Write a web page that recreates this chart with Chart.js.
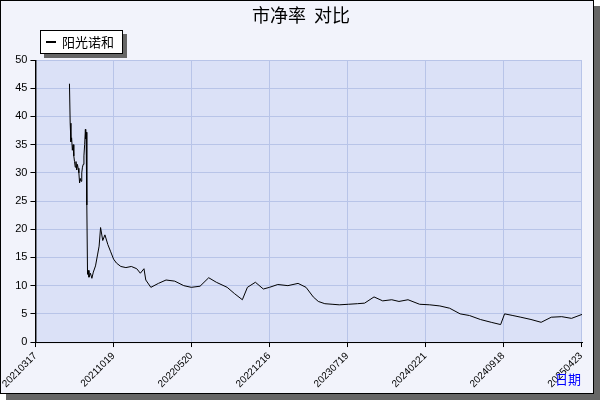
<!DOCTYPE html><html><head><meta charset="utf-8">
<script src="https://cdn.jsdelivr.net/npm/chart.js@4/dist/chart.umd.min.js"></script>
<style>body{margin:0;background:#fff}#w{position:absolute;left:0;top:0;width:592px;height:392px;background:#f2f3fb;border:1px solid #000;box-shadow:6px 6px 0 #666}canvas{position:absolute;left:0;top:0}</style>
</head><body><div id="w"><canvas id="c" width="592" height="392"></canvas></div>
<script>
const tickLabels=["20210317","20211019","20220520","20221216","20230719","20240221","20240918","20250423"];
const seriesName="阳光诺和";
const days=[94,96,98,100,102,104,106,108,110,112,
114,116,118,120,122,124,126,128,130,132,
134,136,138,139,140,142,144,146,148,152,
156,160,166,172,176,180,186,192,200,208,
216,224,236,250,265,280,290,300,305,319,
340,361,385,410,431,455,479,500,530,550,
572,586,608,630,647,670,698,726,748,768,
782,800,820,840,866,890,910,936,960,985,
1005,1030,1062,1090,1118,1145,1174,1200,1230,1260,
1286,1297,1320,1342,1370,1398,1426,1455,1482,1511];
const pb=[45.8,38.8,35.5,36.2,34,35,33,32,31,32,
30.5,31.5,30.8,30,28.2,29,28.5,30,31,31.5,
33,35,37.7,36,37.2,24.3,12,12.7,11.5,12.2,
11.3,12.4,13.5,15.6,17,20.3,18,19,17.3,16,
14.7,14,13.4,13.2,13.4,13,12.2,13,11,9.7,
10.4,11,10.8,10,9.7,9.9,11.4,10.6,9.7,8.6,
7.5,9.7,10.6,9.4,9.7,10.2,10,10.4,9.7,8,
7.2,6.8,6.7,6.6,6.7,6.8,6.9,8,7.3,7.5,
7.2,7.5,6.7,6.6,6.4,6,5,4.7,4,3.5,
3.1,5,4.7,4.4,4,3.5,4.4,4.5,4.2,4.9];
const pts=days.map((d,i)=>({x:d,y:pb[i]}));
const deco={id:'deco',beforeDraw(c){const a=c.chartArea,x=c.ctx;x.fillStyle='#dbe1f7';x.fillRect(a.left,a.top,a.right-a.left,a.bottom-a.top);},
afterDraw(c){const x=c.ctx,a=c.chartArea;x.save();x.fillStyle='#000';x.font='18px "Noto Sans CJK SC"';x.textAlign='center';x.fillText('市净率  对比',300,21);
x.strokeStyle='#000';x.lineWidth=1;x.beginPath();x.moveTo(a.left+.5,a.top);x.lineTo(a.left+.5,a.bottom+.5);x.lineTo(a.right,a.bottom+.5);x.stroke();
x.fillStyle='#666';x.fillRect(43,33,83,24);x.fillStyle='#fff';x.fillRect(39,29,83,24);x.strokeStyle='#000';x.strokeRect(39.5,29.5,82,23);
x.fillStyle='#000';x.fillRect(45,40,10,2);x.font='13px "Noto Sans CJK SC"';x.textAlign='left';x.textBaseline='middle';x.fillText(seriesName,61,41);
x.fillStyle='#0000ff';x.textAlign='right';x.fillText('日期',580,378);x.restore();}};
new Chart(document.getElementById('c'),{type:'line',data:{datasets:[{label:seriesName,data:pts,borderColor:'#000',borderWidth:1,pointRadius:0,tension:0}]},
options:{responsive:false,animation:false,layout:{padding:{top:59,right:11,left:3,bottom:0}},plugins:{legend:{display:false},tooltip:{enabled:false}},
scales:{x:{type:'linear',min:0,max:1511,afterBuildTicks(ax){ax.ticks=tickLabels.map((t,i)=>({value:Math.min(i*215.5,1511)}));},
ticks:{autoSkip:false,maxRotation:45,minRotation:45,color:'#000',font:{size:10},callback:(v,i)=>tickLabels[i]},grid:{color:'#b8c4e8',tickColor:'#000',tickLength:5},border:{color:'#000'}},
y:{min:0,max:50,ticks:{stepSize:5,color:'#000',font:{size:11}},grid:{color:'#b8c4e8',tickColor:'#000',tickLength:5},border:{color:'#000'}}}},plugins:[deco]});
</script></body></html>
